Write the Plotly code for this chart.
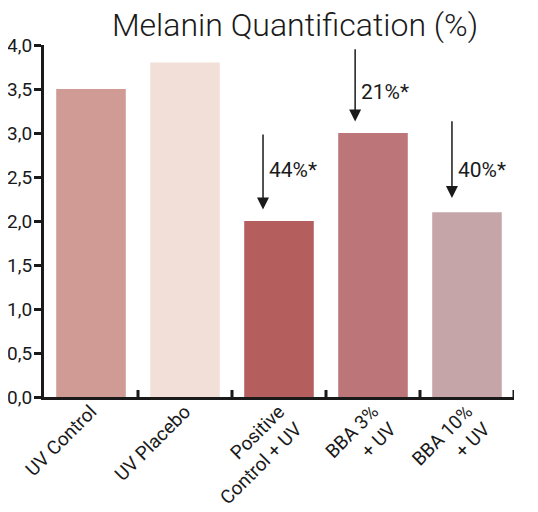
import plotly.graph_objects as go

categories = ["UV Control", "UV Placebo", "Positive<br>Control + UV", "BBA 3%<br>+ UV", "BBA 10%<br>+ UV"]
values = [3.5, 3.8, 2.0, 3.0, 2.1]
colors = ["#d09a95", "#f2dfd8", "#b55e5e", "#bc767a", "#c6a5a8"]

reduction_labels = ["44%*", "21%*", "40%*"]
arrow_x = [1.83, 2.81, 3.84]
arrow_head_y = [2.13, 3.13, 2.26]
arrow_tail_y = [3.0, 3.97, 3.15]
label_y = [2.58, 3.47, 2.58]

fig = go.Figure(go.Bar(x=list(range(len(categories))), y=values, marker=dict(color=colors, line=dict(width=0)),
                       width=0.74))

for lbl, ax_, hy, ty, ly in zip(reduction_labels, arrow_x, arrow_head_y, arrow_tail_y, label_y):
    fig.add_annotation(x=ax_, y=hy, ax=ax_, ay=ty, xref="x", yref="y", axref="x", ayref="y",
                       showarrow=True, arrowhead=2, arrowsize=1.6, arrowwidth=1.5, arrowcolor="#1a1a1a", text="")
    fig.add_annotation(x=ax_ + 0.04, y=ly, xref="x", yref="y", text=lbl, showarrow=False,
                       xanchor="left", yanchor="middle", font=dict(size=21, color="#1a1a1a", family="Roboto"))

fig.update_layout(
    width=530, height=504,
    margin=dict(l=36, r=24, t=37, b=115),
    paper_bgcolor="white", plot_bgcolor="white",
    separators=",.",
    showlegend=False,
    title=dict(text="Melanin Quantification (%)", x=0.5415, xanchor="center", y=0.988, yanchor="top",
               font=dict(size=32, family="Roboto", weight=300, color="#1a1a1a")),
    font=dict(family="Roboto", color="#1a1a1a"),
)
fig.update_xaxes(range=[-0.5, 4.5], tickmode="array", tickvals=list(range(len(categories))), ticktext=categories,
                 showline=True, linewidth=3, linecolor="#1a1a1a", ticks="", tickangle=-45, automargin=False,
                 ticklabelstandoff=-7,
                 tickfont=dict(size=19, color="#1a1a1a"), showgrid=False, zeroline=False)
fig.update_yaxes(range=[0, 4], dtick=0.5, tickformat=".1f", showline=True, linewidth=3, linecolor="#1a1a1a",
                 ticks="outside", ticklen=7, tickwidth=3, tickcolor="#1a1a1a", automargin=False,
                 ticklabelstandoff=-2,
                 tickfont=dict(size=19, color="#1a1a1a"), showgrid=False, zeroline=False)

# boundary tick marks on x axis (pointing up)
for b in [0.5, 1.5, 2.5, 3.5, 4.5]:
    fig.add_shape(type="line", x0=b, x1=b, y0=0, y1=0.08, xref="x", yref="y",
                  line=dict(color="#1a1a1a", width=3))

fig.write_html("out.html")
